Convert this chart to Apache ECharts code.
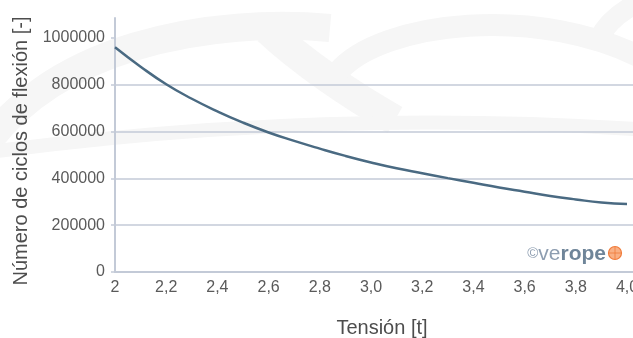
<!DOCTYPE html>
<html>
<head>
<meta charset="utf-8">
<script src="https://cdn.jsdelivr.net/npm/echarts@6/dist/echarts.min.js"></script>
<style>
html,body{margin:0;padding:0;background:#fff;}
#chart{width:633px;height:338px;}
</style>
</head>
<body>
<div id="chart"></div>
<script>
// Data
var tension = [2.0, 2.1, 2.2, 2.3, 2.4, 2.5, 2.6, 2.7, 2.8, 2.9, 3.0, 3.1, 3.2, 3.3, 3.4, 3.5, 3.6, 3.7, 3.8, 3.9, 4.0];
var cycles = [960000, 877000, 802000, 740000, 686000, 638000, 596000, 560000, 527000, 496000, 468000, 443000, 422000, 401000, 381000, 361000, 343000, 325000, 310000, 297000, 291000];
var xTickValues = [2.0, 2.2, 2.4, 2.6, 2.8, 3.0, 3.2, 3.4, 3.6, 3.8, 4.0];
var xTickLabels = ['2', '2,2', '2,4', '2,6', '2,8', '3,0', '3,2', '3,4', '3,6', '3,8', '4,0'];
var yTickValues = [0, 200000, 400000, 600000, 800000, 1000000];
var xTitle = 'Tensión [t]';
var yTitle = 'Número de ciclos de flexión [-]';

var font = "'Liberation Sans', Arial, Helvetica, sans-serif";
var gridColor = '#c3cad7';

var chart = echarts.init(document.getElementById('chart'), null, {renderer: 'canvas'});

var seriesData = tension.map(function (t, i) { return [t, cycles[i]]; });

var bg = '#f6f6f6';
chart.setOption({
  animation: false,
  backgroundColor: '#ffffff',
  grid: { left: 115, right: 0, top: 18, bottom: 66, containLabel: false, outerBoundsMode: 'none' },
  xAxis: {
    type: 'value',
    min: 2,
    max: 4.0234,
    interval: 0.2,
    name: xTitle,
    nameLocation: 'middle',
    nameGap: 46,
    nameTextStyle: { fontFamily: font, fontSize: 20, color: '#4d4d4d', padding: [0, 0, 0, 16] },
    axisLine: { show: true, lineStyle: { color: gridColor, width: 2 } },
    axisTick: { show: false },
    splitLine: { show: false },
    axisLabel: {
      customValues: xTickValues,
      margin: 8,
      fontFamily: font, fontSize: 16, color: '#5a5a5a',
      formatter: function (v) {
        var idx = Math.round((v - 2) / 0.2);
        return xTickLabels[idx] !== undefined ? xTickLabels[idx] : '';
      }
    }
  },
  yAxis: {
    type: 'value',
    min: 0,
    max: 1085000,
    interval: 200000,
    name: yTitle,
    nameLocation: 'middle',
    nameGap: 80,
    nameTextStyle: { fontFamily: font, fontSize: 20, color: '#4d4d4d', padding: [0, 12, 0, 0] },
    axisLine: { show: true, lineStyle: { color: gridColor, width: 2 } },
    axisTick: { show: true, length: 4, customValues: yTickValues, lineStyle: { color: gridColor, width: 1.5 } },
    splitLine: { show: true, showMaxLine: false, lineStyle: { color: gridColor, width: 1.5 } },
    axisLabel: {
      customValues: yTickValues,
      margin: 10,
      fontFamily: font, fontSize: 16, color: '#5a5a5a',
      formatter: function (v) { return String(v); }
    }
  },
  graphic: [
    { type: 'bezierCurve', z: -10, silent: true, shape: { x1: -30, y1: 170, cpx1: 40, cpy1: 40, cpx2: 220, cpy2: 18, x2: 330, y2: 28 }, style: { stroke: bg, lineWidth: 28, fill: null } },
    { type: 'bezierCurve', z: -10, silent: true, shape: { x1: 268, y1: 30, cpx1: 300, cpy1: 60, cpx2: 350, cpy2: 95, x2: 395, y2: 120 }, style: { stroke: bg, lineWidth: 30, fill: null } },
    { type: 'bezierCurve', z: -10, silent: true, shape: { x1: -10, y1: 152, cpx1: 200, cpy1: 124, cpx2: 420, cpy2: 114, x2: 650, y2: 130 }, style: { stroke: bg, lineWidth: 14, fill: null } },
    { type: 'bezierCurve', z: -10, silent: true, shape: { x1: 338, y1: 72, cpx1: 380, cpy1: 22, cpx2: 540, cpy2: 2, x2: 650, y2: 62 }, style: { stroke: bg, lineWidth: 22, fill: null } },
    { type: 'bezierCurve', z: -10, silent: true, shape: { x1: 598, y1: 40, cpx1: 608, cpy1: 20, cpx2: 625, cpy2: 8, x2: 645, y2: 0 }, style: { stroke: bg, lineWidth: 20, fill: null } },
    {
      type: 'text', z: 10, silent: true,
      x: 606, y: 254,
      style: {
        text: '{c|©}{v|ve}{r|rope}',
        align: 'right', verticalAlign: 'middle',
        rich: {
          c: { fontFamily: font, fontSize: 15, fill: '#8d9db0' },
          v: { fontFamily: font, fontSize: 21, fill: '#8d9db0' },
          r: { fontFamily: font, fontSize: 21, fontWeight: 'bold', fill: '#6f8599' }
        }
      }
    },
    { type: 'circle', z: 10, silent: true, shape: { cx: 615, cy: 253, r: 6.5 }, style: { fill: '#f9b084', stroke: '#f07b3a', lineWidth: 1.2 } },
    { type: 'line', z: 11, silent: true, shape: { x1: 609, y1: 253, x2: 621, y2: 253 }, style: { stroke: '#f07b3a', lineWidth: 0.8 } },
    { type: 'line', z: 11, silent: true, shape: { x1: 615, y1: 247, x2: 615, y2: 259 }, style: { stroke: '#f07b3a', lineWidth: 0.8 } }
  ],
  series: [{
    type: 'line',
    data: seriesData,
    smooth: true,
    showSymbol: false,
    symbol: 'none',
    lineStyle: { color: '#4a6a82', width: 2.5 },
    z: 5
  }]
});
</script>
</body>
</html>
